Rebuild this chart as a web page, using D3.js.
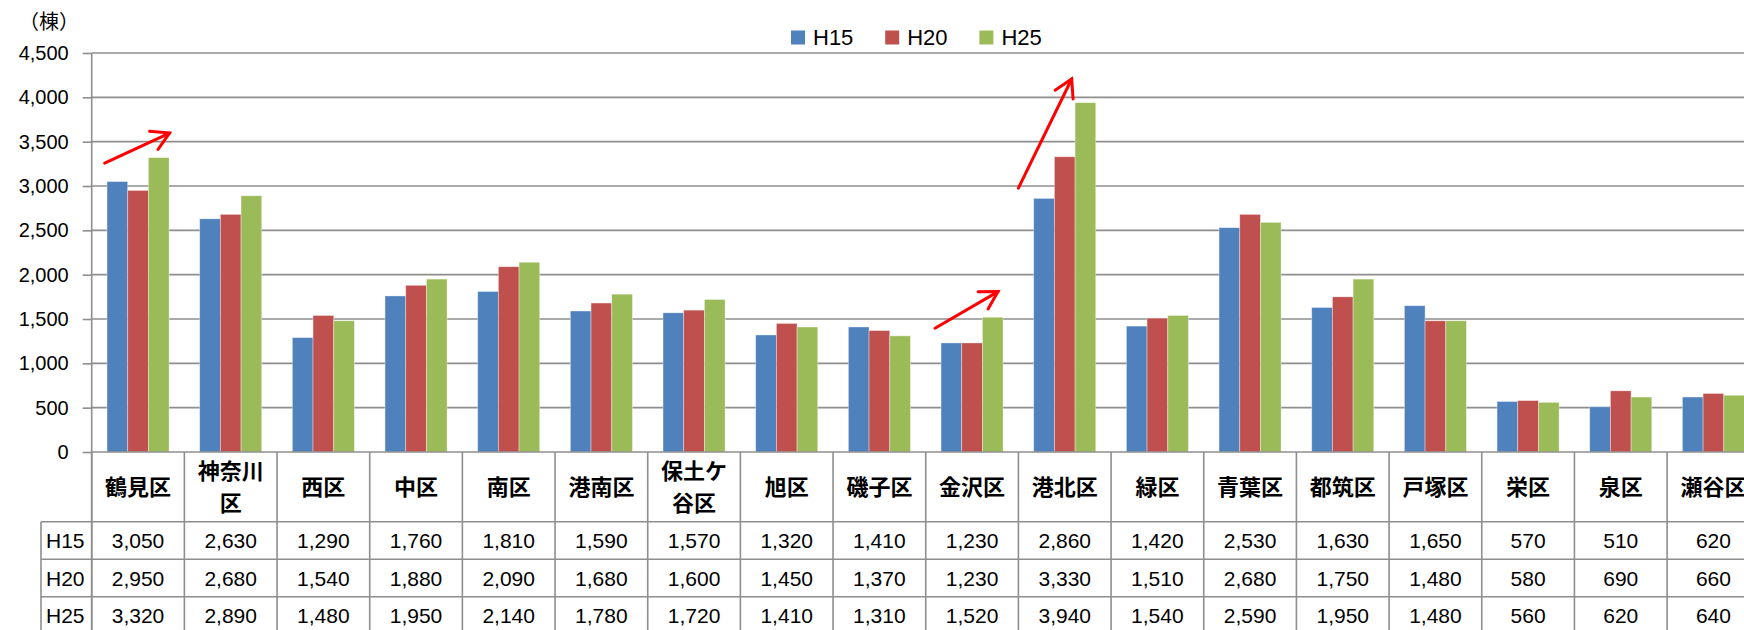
<!DOCTYPE html>
<html>
<head>
<meta charset="utf-8">
<title>区別 棟数</title>
<script src="https://cdn.jsdelivr.net/npm/d3@7"></script>
<style>
	body { margin: 0; background: #fff; }
	text { font-family: "Liberation Sans", "Noto Sans", sans-serif; fill: #000; }
	.cjk { font-family: "Noto Sans CJK JP", sans-serif; }
</style>
</head>
<body>
<div id="vis"></div>
<script type="text/javascript">
// data
var categories = ['鶴見区', '神奈川区', '西区', '中区', '南区', '港南区', '保土ケ谷区', '旭区', '磯子区',
	'金沢区', '港北区', '緑区', '青葉区', '都筑区', '戸塚区', '栄区', '泉区', '瀬谷区'];
var categoryLines = [['鶴見区'], ['神奈川', '区'], ['西区'], ['中区'], ['南区'], ['港南区'], ['保土ケ', '谷区'],
	['旭区'], ['磯子区'], ['金沢区'], ['港北区'], ['緑区'], ['青葉区'], ['都筑区'], ['戸塚区'], ['栄区'], ['泉区'], ['瀬谷区']];
var seriesNames = ['H15', 'H20', 'H25'];
var h15 = [3050, 2630, 1290, 1760, 1810, 1590, 1570, 1320, 1410, 1230, 2860, 1420, 2530, 1630, 1650, 570, 510, 620];
var h20 = [2950, 2680, 1540, 1880, 2090, 1680, 1600, 1450, 1370, 1230, 3330, 1510, 2680, 1750, 1480, 580, 690, 660];
var h25 = [3320, 2890, 1480, 1950, 2140, 1780, 1720, 1410, 1310, 1520, 3940, 1540, 2590, 1950, 1480, 560, 620, 640];
var yTicks = [0, 500, 1000, 1500, 2000, 2500, 3000, 3500, 4000, 4500];
// red arrows: [category index, position in band, value] start -> end
var arrows = [
	{cat: 0, f0: 0.14, v0: 3258, f1: 0.84, v1: 3597},
	{cat: 9, f0: 0.10, v0: 1396, f1: 0.78, v1: 1809},
	{cat: 10, f0: 0.00, v0: 2976, f1: 0.575, v1: 4207}
];

var seriesValues = [h15, h20, h25];
const COLORS = ['#4F81BD', '#C0504D', '#9BBB59'];
const GRID = '#8e8e8e';
const TABLE_LINE = '#8e8e8e';

var W = 1744, H = 630;
var svg = d3.select('#vis').append('svg').attr('width', W).attr('height', H);

var plotLeft = 91.7, step = 92.67;
var x0 = d3.scaleBand().domain(categories).range([plotLeft, plotLeft + step * categories.length]);
var x1 = d3.scaleBand().domain(seriesNames).range([0, x0.bandwidth()]).paddingOuter(0.74);
var y = d3.scaleLinear().domain([0, 4500]).range([452, 53]);

// grid lines
svg.append('g').selectAll('line').data(yTicks.slice(1)).enter().append('line')
	.attr('x1', plotLeft).attr('x2', W)
	.attr('y1', function(d){ return y(d); }).attr('y2', function(d){ return y(d); })
	.attr('stroke', GRID).attr('stroke-width', 1.6);

// y axis
var yAxis = d3.axisLeft(y).tickValues(yTicks).tickFormat(d3.format(',')).tickSize(9).tickPadding(14);
var gy = svg.append('g').attr('transform', 'translate(' + plotLeft + ',0)').call(yAxis);
gy.select('.domain').attr('stroke', GRID).attr('stroke-width', 1.6);
gy.selectAll('.tick line').attr('stroke', GRID).attr('stroke-width', 1.6);
gy.selectAll('.tick text').attr('font-size', 20).attr('font-family', '"Liberation Sans", sans-serif').attr('fill', '#000');
gy.select('.domain').attr('d', 'M0,' + y(4500) + 'V' + H);

svg.append('text').attr('class', 'cjk').attr('x', 49).attr('y', 29)
	.attr('text-anchor', 'middle').attr('font-size', 20).text('（棟）');

// bars
var groups = svg.append('g').selectAll('g').data(categories).enter().append('g')
	.attr('transform', function(d){ return 'translate(' + x0(d) + ',0)'; });
groups.selectAll('rect').data(function(d, i){
		return seriesNames.map(function(s, k){ return {series: s, value: seriesValues[k][i], k: k}; });
	})
	.enter().append('rect')
	.attr('x', function(d){ return x1(d.series); })
	.attr('width', x1.bandwidth())
	.attr('y', function(d){ return y(d.value); })
	.attr('height', function(d){ return y(0) - y(d.value); })
	.attr('fill', function(d){ return COLORS[d.k]; })
	.attr('stroke', 'rgba(255,255,255,0.45)').attr('stroke-width', 0.8);

// arrows
var ah = svg.append('g').attr('stroke', '#ff0000').attr('stroke-width', 3).attr('fill', 'none').attr('stroke-linecap', 'round');
arrows.forEach(function(a){
	var bx = x0(categories[a.cat]);
	var sx = bx + a.f0 * step, sy = y(a.v0), tx = bx + a.f1 * step, ty = y(a.v1);
	var ang = Math.atan2(ty - sy, tx - sx), len = 20, spread = Math.PI / 6;
	ah.append('line').attr('x1', sx).attr('y1', sy).attr('x2', tx).attr('y2', ty);
	ah.append('path').attr('stroke-linejoin', 'miter')
		.attr('d', 'M' + (tx - len * Math.cos(ang - spread)) + ',' + (ty - len * Math.sin(ang - spread)) +
			'L' + tx + ',' + ty +
			'L' + (tx - len * Math.cos(ang + spread)) + ',' + (ty - len * Math.sin(ang + spread)));
});

// legend
var legend = svg.append('g').selectAll('g').data(seriesNames).enter().append('g')
	.attr('transform', function(d, i){ return 'translate(' + (791 + i * 94.2) + ',30.5)'; });
legend.append('rect').attr('width', 14).attr('height', 14).attr('fill', function(d, i){ return COLORS[i]; });
legend.append('text').attr('x', 22).attr('y', 14.5).attr('font-size', 22).text(function(d){ return d; });

// data table
var rowTop = [452, 521.7, 559.3, 596.7, 634];
var tableLeft = 41;
var tbl = svg.append('g');
// vertical lines
tbl.selectAll('.vl').data(d3.range(categories.length + 1)).enter().append('line')
	.attr('x1', function(i){ return plotLeft + i * step; }).attr('x2', function(i){ return plotLeft + i * step; })
	.attr('y1', 452).attr('y2', H)
	.attr('stroke', TABLE_LINE).attr('stroke-width', 1.6);
tbl.append('line').attr('x1', tableLeft).attr('x2', tableLeft).attr('y1', rowTop[1]).attr('y2', H)
	.attr('stroke', TABLE_LINE).attr('stroke-width', 1.6);
// horizontal lines
tbl.append('line').attr('x1', plotLeft).attr('x2', W).attr('y1', 452).attr('y2', 452)
	.attr('stroke', TABLE_LINE).attr('stroke-width', 1.6);
tbl.selectAll('.hl').data(rowTop.slice(1, 4)).enter().append('line')
	.attr('x1', tableLeft).attr('x2', W)
	.attr('y1', function(d){ return d; }).attr('y2', function(d){ return d; })
	.attr('stroke', TABLE_LINE).attr('stroke-width', 1.6);

// category headers
var hdr = tbl.selectAll('.hdr').data(categories).enter().append('text')
	.attr('class', 'cjk').attr('text-anchor', 'middle').attr('font-size', 22).attr('font-weight', 'bold')
	.attr('x', function(d){ return x0(d) + step / 2; });
hdr.each(function(d, i){
	var lines = categoryLines[i];
	var t = d3.select(this);
	var mid = (rowTop[0] + rowTop[1]) / 2;
	lines.forEach(function(l, j){
		t.append('tspan').attr('x', x0(d) + step / 2)
			.attr('y', mid + 8 + (j - (lines.length - 1) / 2) * 31.6).text(l);
	});
});

// value rows
var fmt = d3.format(',');
seriesNames.forEach(function(s, k){
	var cy = (rowTop[k + 1] + rowTop[k + 2]) / 2 + 7.5;
	tbl.append('text').attr('x', 46).attr('y', cy).attr('font-size', 21).text(s);
	tbl.selectAll('.v' + k).data(seriesValues[k]).enter().append('text')
		.attr('text-anchor', 'middle').attr('font-size', 21)
		.attr('x', function(d, i){ return x0(categories[i]) + step / 2; })
		.attr('y', cy).text(function(d){ return fmt(d); });
});
</script>
</body>
</html>
